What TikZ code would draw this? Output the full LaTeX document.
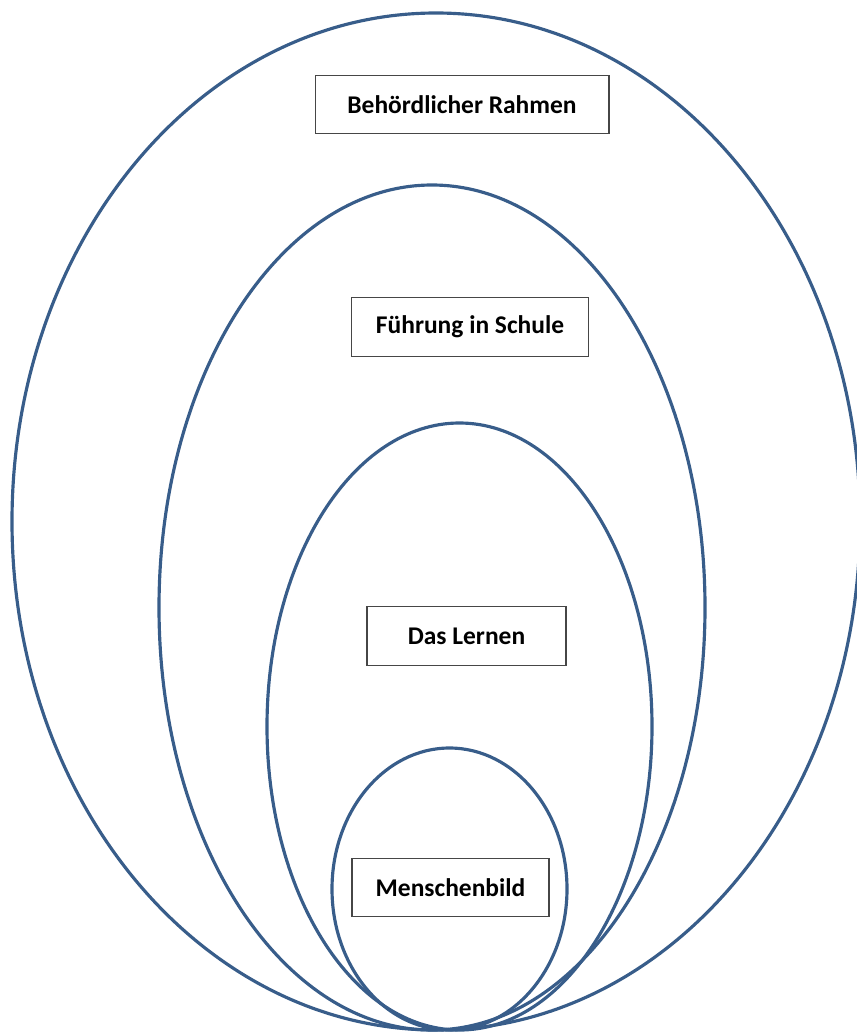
\documentclass[tikz,border=0pt]{standalone}
\usepackage{fontspec}
\setmainfont{Carlito}
\usepackage{tikz}
\definecolor{ring}{RGB}{56, 93, 138}
\definecolor{frame}{RGB}{70, 70, 70}

\begin{document}
\begin{tikzpicture}[x=0.02cm, y=-0.02cm,
    ring/.style={draw=ring, line width=1.8pt}, % Ellipsen
    label/.style={draw=frame, line width=0.6pt, fill=white,
      font=\bfseries\fontsize{14.5}{17}\selectfont,
      minimum height=1.17cm, inner sep=0pt}, % Kästen
    ]
  \useasboundingbox (0,0) rectangle (857,1034);

  \draw[ring] (436,521.5) ellipse (424 and 508.5);
  \draw[ring] (432,607.5) ellipse (273 and 422.5);
  \draw[ring] (459.5,726.5) ellipse (192.5 and 303.5);
  \draw[ring] (449.5,889) ellipse (117.5 and 141);

  \node[label, minimum width=5.88cm] (rahmen) at (462,104.5) {Behördlicher Rahmen};
  \node[label, minimum width=4.74cm] (fuehrung) at (470,327) {Führung in Schule};
  \node[label, minimum width=3.98cm] (lernen) at (466.5,636) {Das Lernen};
  \node[label, minimum width=3.94cm] (bild) at (450.5,887.5) {Menschenbild};
\end{tikzpicture}
\end{document}
